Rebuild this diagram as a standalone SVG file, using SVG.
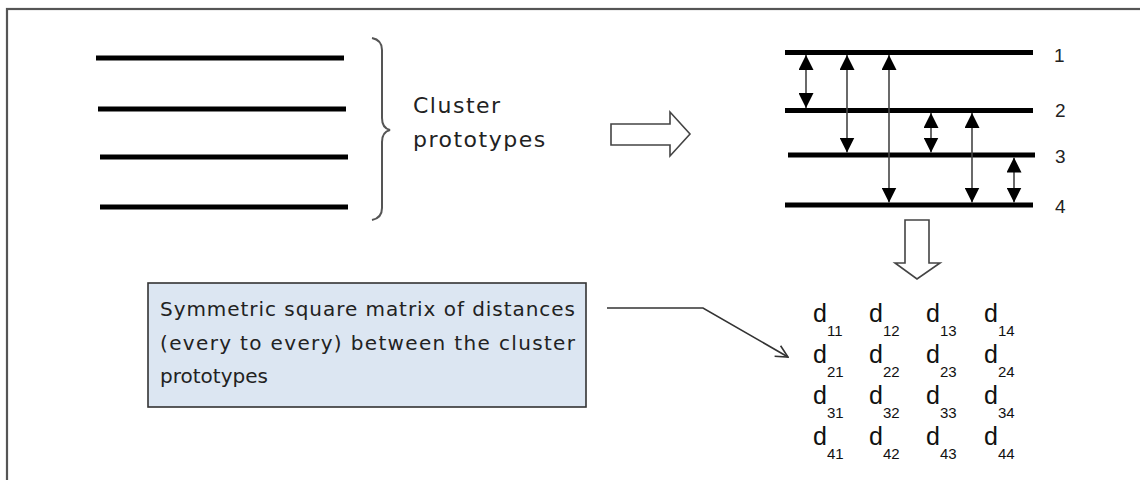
<svg xmlns="http://www.w3.org/2000/svg" width="1140" height="480" viewBox="0 0 1140 480">
  <style>
    .proto { stroke: #000; stroke-width: 5; stroke-linecap: butt; }
    .dist { stroke: #444; stroke-width: 1.6; fill: none; marker-start: url(#tri); marker-end: url(#tri); }
    .label { font-family: "DejaVu Sans", "Liberation Sans", sans-serif; font-size: 22px; letter-spacing: 1.5px; fill: #222; }
    .note { font-family: "DejaVu Sans", "Liberation Sans", sans-serif; font-size: 20px; fill: #222; }
    .num { font-family: "Liberation Sans", Arial, sans-serif; font-size: 19px; fill: #222; }
    .mat { font-family: "Liberation Sans", Arial, sans-serif; font-size: 25px; fill: #111; }
    .sub { font-size: 15px; }
    .hollow { fill: #fff; stroke: #444; stroke-width: 1.6; stroke-linejoin: miter; }
  </style>
  <defs>
    <marker id="tri" viewBox="0 0 15 15" refX="15" refY="7.5" markerWidth="15" markerHeight="15" markerUnits="userSpaceOnUse" orient="auto-start-reverse">
      <path d="M0,0 L15,7.5 L0,15 Z" fill="#000"/>
    </marker>
    <marker id="open" viewBox="0 0 14 14" refX="13" refY="7" markerWidth="14" markerHeight="14" markerUnits="userSpaceOnUse" orient="auto">
      <path d="M1,1 L13,7 L1,13" fill="none" stroke="#333" stroke-width="1.6"/>
    </marker>
  </defs>

  <rect width="1140" height="480" fill="#fff"/>
  <!-- outer frame, open towards the right and bottom edges -->
  <rect x="7" y="9" width="1160" height="500" fill="none" stroke="#555" stroke-width="2.2"/>

  <!-- cluster prototypes on the left -->
  <g id="prototypes">
    <line class="proto" x1="96" y1="58" x2="344" y2="58"/>
    <line class="proto" x1="98" y1="109" x2="346" y2="109"/>
    <line class="proto" x1="100" y1="157" x2="348" y2="157"/>
    <line class="proto" x1="100" y1="207" x2="348" y2="207"/>
  </g>

  <g id="brace">
    <path d="M372,38 Q382,40 382,50 L382,118 Q382,128 390,130 Q382,132 382,142 L382,208 Q382,218 372,220" fill="none" stroke="#555" stroke-width="2"/>
  </g>

  <g id="brace-label">
    <text class="label" x="413" y="113">Cluster</text>
    <text class="label" x="413" y="147">prototypes</text>
  </g>

  <!-- ordered prototypes with pairwise distances -->
  <g id="ordered">
    <line class="proto" x1="785" y1="52.5" x2="1033" y2="52.5"/>
    <line class="proto" x1="785" y1="110.5" x2="1033" y2="110.5"/>
    <line class="proto" x1="788" y1="155" x2="1035" y2="155"/>
    <line class="proto" x1="785" y1="205" x2="1033" y2="205"/>
    <text class="num" x="1054" y="62">1</text>
    <text class="num" x="1055" y="117">2</text>
    <text class="num" x="1055" y="163">3</text>
    <text class="num" x="1055" y="213">4</text>
  </g>

  <g id="connectors">
    <line class="dist" x1="806" y1="55" x2="806" y2="108"/>
    <line class="dist" x1="847" y1="55" x2="847" y2="152.5"/>
    <line class="dist" x1="889" y1="55" x2="889" y2="202.5"/>
    <line class="dist" x1="931" y1="113" x2="931" y2="152.5"/>
    <line class="dist" x1="972" y1="113" x2="972" y2="202.5"/>
    <line class="dist" x1="1014" y1="157.5" x2="1014" y2="202.5"/>
    <!-- block arrows -->
    <path class="hollow" d="M611,124 L670,124 L670,112 L690,134 L670,156 L670,145 L611,145 Z"/>
    <path class="hollow" d="M905,220 L929,220 L929,263 L940,263 L917,279 L895,263 L905,263 Z"/>
    <!-- pointer from the note to the matrix -->
    <polyline points="607,308 703,308 788,357" fill="none" stroke="#333" stroke-width="1.6" marker-end="url(#open)"/>
  </g>

  <g id="note">
    <rect x="148" y="283" width="438" height="124" fill="#dce6f2" stroke="#333" stroke-width="1.6"/>
    <text class="note" x="160" y="316" textLength="415" lengthAdjust="spacing">Symmetric square matrix of distances</text>
    <text class="note" x="160" y="350" textLength="415" lengthAdjust="spacing">(every to every) between the cluster</text>
    <text class="note" x="160" y="383">prototypes</text>
  </g>

  <g id="matrix" class="mat">
    <text x="813" y="322">d<tspan class="sub" dy="14">11</tspan></text>
    <text x="869" y="322">d<tspan class="sub" dy="14">12</tspan></text>
    <text x="926" y="322">d<tspan class="sub" dy="14">13</tspan></text>
    <text x="984" y="322">d<tspan class="sub" dy="14">14</tspan></text>
    <text x="813" y="363">d<tspan class="sub" dy="14">21</tspan></text>
    <text x="869" y="363">d<tspan class="sub" dy="14">22</tspan></text>
    <text x="926" y="363">d<tspan class="sub" dy="14">23</tspan></text>
    <text x="984" y="363">d<tspan class="sub" dy="14">24</tspan></text>
    <text x="813" y="404">d<tspan class="sub" dy="14">31</tspan></text>
    <text x="869" y="404">d<tspan class="sub" dy="14">32</tspan></text>
    <text x="926" y="404">d<tspan class="sub" dy="14">33</tspan></text>
    <text x="984" y="404">d<tspan class="sub" dy="14">34</tspan></text>
    <text x="813" y="445">d<tspan class="sub" dy="14">41</tspan></text>
    <text x="869" y="445">d<tspan class="sub" dy="14">42</tspan></text>
    <text x="926" y="445">d<tspan class="sub" dy="14">43</tspan></text>
    <text x="984" y="445">d<tspan class="sub" dy="14">44</tspan></text>
  </g>
</svg>
